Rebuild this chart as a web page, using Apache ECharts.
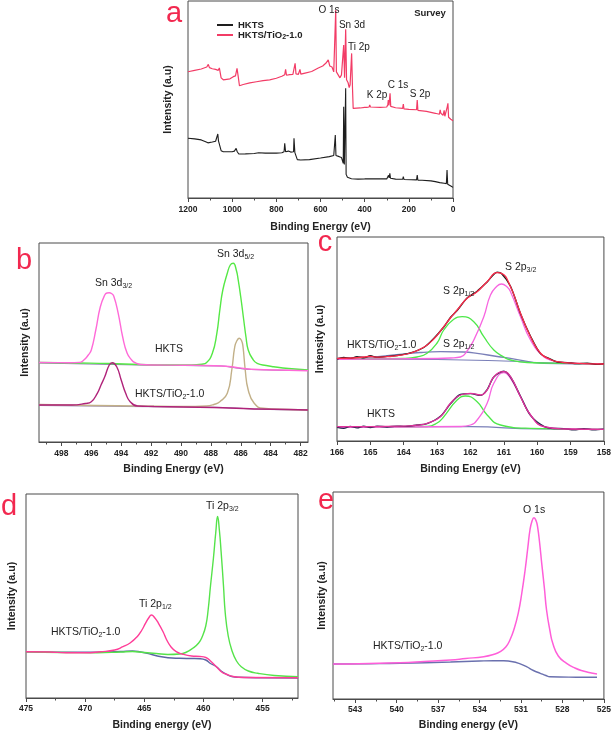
<!DOCTYPE html>
<html>
<head>
<meta charset="utf-8">
<script src="https://cdn.jsdelivr.net/npm/echarts@6/dist/echarts.min.js"></script>
<style>
html,body{margin:0;padding:0;background:#fff;}
#c{width:614px;height:734px;}
</style>
</head>
<body>
<div id="c"></div>
<script>
// ---------------- DATA ----------------
// Panel a: survey spectra [binding energy, intensity a.u.]
var aHKTS = [[1200,30.3],[1170,30.0],[1140,29.5],[1120,28.5],[1110,28.0],[1090,28.4],[1075,28.8],[1068,29.5],[1065,32.5],[1062,29.0],[1056,28.5],[1050,24.0],[1040,23.5],[1000,23.5],[990,23.8],[982,25.2],[977,23.5],[970,22.3],[940,22.4],[900,22.6],[880,23.0],[850,22.8],[800,22.8],[775,23.0],[765,23.5],[762,27.8],[758,23.5],[745,23.8],[735,23.3],[722,23.5],[720,30.3],[716,23.0],[705,19.5],[690,19.3],[650,19.5],[600,20.3],[560,21.0],[540,21.6],[536,22.0],[533,32.0],[530,21.6],[515,21.0],[505,20.5],[500,19.8],[497,17.6],[495,46.3],[492,17.0],[488,18.0],[486,55.7],[484,12.0],[478,10.5],[474,10.0],[460,9.8],[430,9.6],[400,9.7],[380,9.8],[378,10.5],[375,9.7],[330,9.7],[300,9.7],[295,10.5],[292,11.5],[289,10.2],[286,12.5],[283,10.0],[260,9.6],[228,9.5],[225,10.8],[222,9.4],[190,9.3],[165,9.2],[162,11.7],[159,9.0],[140,9.0],[137,9.6],[134,8.8],[100,8.7],[80,8.3],[60,7.8],[40,7.5],[30,7.3],[27,14.2],[24,7.0],[15,6.5],[8,6.0],[0,5.4]];
var aTiO2 = [[1200,64.1],[1170,64.8],[1140,65.5],[1115,66.5],[1108,67.8],[1103,66.2],[1090,65.6],[1075,65.3],[1068,66.2],[1063,64.8],[1058,66.0],[1050,61.0],[1040,60.0],[1010,60.5],[995,61.6],[985,62.0],[978,65.8],[973,62.0],[967,57.0],[950,57.6],[920,58.4],[890,59.0],[860,59.6],[830,60.0],[800,60.8],[775,61.8],[762,62.6],[758,65.3],[754,62.3],[740,62.6],[725,62.8],[718,63.0],[715,68.4],[711,63.0],[700,62.8],[693,65.3],[689,62.9],[670,63.4],[640,64.2],[610,66.0],[590,67.0],[575,68.5],[565,70.1],[558,67.0],[548,66.5],[540,64.0],[535,63.5],[531,95.4],[528,64.0],[520,62.5],[512,61.0],[505,62.5],[498,63.0],[495,77.7],[491,61.0],[488,62.0],[486,85.6],[482,60.0],[475,58.5],[470,56.0],[466,57.5],[462,58.0],[459,73.4],[455,55.5],[452,45.5],[420,45.7],[400,46.0],[395,46.8],[390,46.0],[380,46.2],[377,47.3],[374,46.2],[330,46.0],[300,46.2],[295,47.5],[293,49.7],[290,47.0],[287,47.5],[285,53.1],[282,46.5],[260,45.8],[228,45.5],[225,47.7],[222,45.2],[200,45.0],[165,44.8],[162,49.7],[159,44.5],[120,44.0],[100,43.5],[80,43.0],[62,42.5],[58,44.8],[55,43.0],[45,42.0],[40,44.5],[37,41.5],[30,42.0],[26,46.3],[23,48.1],[20,41.0],[10,40.0],[0,39.2]];

// Panel b: Sn 3d
var bHKTS32 = [[499.5,79.5],[498.5,79.4],[497.5,79.3],[496.8,79.6],[496.5,82],[496.2,87],[496.0,92],[495.7,112],[495.4,135],[495.1,147],[494.95,149],[494.8,149.3],[494.65,148.5],[494.5,146],[494.2,128.7],[493.9,105],[493.6,88.7],[493.3,82],[493.1,79.5],[492.7,77.5],[491.8,77],[489.8,76.8],[487.8,76.3],[486.8,75.5],[486.3,74.5],[485.8,73.5],[485.3,72.8],[484.3,72.2],[482.8,71.8],[481.5,71.3]];
var bHKTS52 = [[499.5,79.5],[496.8,79],[494.8,78.5],[492.8,77.5],[490.8,77],[489.3,77],[488.6,77.8],[488.3,79.3],[487.9,88.7],[487.6,108.7],[487.4,132],[487.2,152],[486.9,168.7],[486.7,177],[486.5,178.7],[486.3,172],[486.17,162],[486.0,145],[485.8,122],[485.65,105],[485.5,92],[485.2,83],[484.9,78.7],[484.3,76.5],[483.8,75.3],[482.8,73.5],[481.5,72]];
var bHKTSbg = [[499.5,79],[492.8,77],[489.8,76.5],[487.3,76],[486.3,74],[485.3,72.5],[481.5,71.5]];
var bTiO232 = [[499.5,37],[497.3,37],[496.4,38.5],[496.0,40.3],[495.6,48.7],[495.35,57],[495.1,65.3],[494.8,77],[494.6,79.3],[494.3,75.3],[494.0,62],[493.7,48.7],[493.4,40.3],[492.9,36],[491.8,35.5],[489.8,35],[487.8,34.5],[486.8,34],[485.8,33.5],[484.8,33],[482.8,32.5],[481.5,32]];
var bTiO252 = [[499.5,37.5],[495.8,36.5],[492.8,36],[489.8,35.5],[488.3,36],[487.8,37.5],[487.4,40.3],[486.9,48.7],[486.6,72],[486.4,95.3],[486.25,101.5],[486.1,103.7],[485.95,101.5],[485.85,95.3],[485.7,72],[485.5,52],[485.1,38.7],[484.5,33.7],[482.8,32.5],[481.5,32]];
var bTiO2bg = [[499.5,36.5],[493.8,35.5],[489.8,35],[486.3,34],[485.3,33],[481.5,32]];

// Panel c: S 2p
var cTiO2data = [[166,82],[165.8,83.5],[165.6,82.6],[165.4,84.2],[165.2,83.2],[165.0,85.2],[164.8,83.6],[164.5,84.6],[164.2,85.5],[163.8,88.2],[163.4,93.5],[163.1,102.5],[162.8,114],[162.6,123.5],[162.4,130.5],[162.1,143],[161.8,149.8],[161.5,159],[161.2,168.8],[161.07,167.5],[160.8,154.8],[160.5,127.3],[160.2,104.8],[159.9,87.4],[159.6,81.8],[159.4,79.0],[159.1,78.4],[158.8,77.4],[158.5,77.9],[158.2,76.6],[158,77.2]];
var cTiO2env = [[166,82.7],[165.5,83],[165.2,84],[165.0,84.5],[164.8,83.8],[164.5,84.3],[164.2,85.3],[163.8,88],[163.4,93.7],[163.1,102],[162.8,114.3],[162.6,123],[162.4,131],[162.1,142.7],[161.8,149.3],[161.5,159.3],[161.2,168.3],[161.07,167.7],[160.8,154.3],[160.5,127.7],[160.2,104.3],[159.9,87.7],[159.6,81.5],[159.4,79.3],[158.8,77.7],[158,77]];
var cTiO2p12 = [[166,81.7],[164,82.5],[163.6,84],[163.3,87.7],[163.0,98],[162.8,111],[162.5,121.7],[162.25,124.3],[161.9,119.3],[161.6,104.3],[161.3,91],[161.0,84],[160.8,81],[160.3,78.5],[159,77.7],[158,77]];
var cTiO2p32 = [[166,81.7],[163,82.5],[162.6,83],[162.3,84],[162.1,90],[161.9,101],[161.6,124.3],[161.4,146],[161.2,155],[161.07,157],[160.9,154],[160.8,149.3],[160.5,124.3],[160.2,101],[159.8,84.3],[159.5,80],[159.2,78.3],[158,77]];
var cTiO2small = [[166,82.7],[165,84],[164.3,86],[163.5,88.5],[162.9,89.3],[162.2,89],[161.8,87.7],[161.2,84.5],[160.8,82.7],[159.8,77.7],[158,77]];
var cTiO2bg = [[166,82],[163,81.5],[161,80],[160,78.5],[159,77.5],[158,77]];
var cHKTSdata = [[166,13.6],[165.8,12.6],[165.6,14.6],[165.4,13.1],[165.2,14.7],[165.0,13.4],[164.8,14.9],[164.5,14.0],[164.2,14.9],[164,14.6],[163.6,16.0],[163.3,17.4],[162.9,24.8],[162.6,37.2],[162.3,46.5],[162.0,47.4],[161.7,45.6],[161.5,51.4],[161.3,64.0],[161.0,69.7],[160.8,64.0],[160.5,44.8],[160.2,25.6],[159.8,14.6],[159.5,12.5],[159.2,12.4],[158.9,11.2],[158.6,12.3],[158.3,11.2],[158,11.9]];
var cHKTSenv = [[166,14.3],[164,14.8],[163.6,15.8],[163.3,17.7],[162.9,24.3],[162.6,37.7],[162.3,46],[162.0,47.7],[161.7,46],[161.5,51],[161.3,64.3],[161.0,69.3],[160.8,64.3],[160.5,44.3],[160.2,26],[159.8,14.3],[159.2,12],[158,11.7]];
var cHKTSp12 = [[166,13.7],[163.3,14.5],[163.0,18],[162.8,24.3],[162.4,41],[162.15,45],[161.8,39.3],[161.5,26],[161.1,16],[160.2,12.7],[158,11.7]];
var cHKTSp32 = [[166,13.7],[162.3,14.5],[162.0,16],[161.8,21],[161.5,37.7],[161.3,57.7],[161.0,68.3],[160.8,62.7],[160.5,44.3],[160.2,26],[159.8,14.3],[159.3,12.3],[158,11.7]];
var cHKTSbg = [[166,14.3],[162,14.3],[160,12],[158,11.7]];

// Panel d: Ti 2p
var dTi12 = [[475,46.3],[473,46],[471.6,45.3],[470,45.3],[468.7,46.3],[467.5,48],[466.8,51.3],[466.2,55],[465.6,61.3],[465.2,68],[464.9,74.7],[464.6,80.5],[464.4,83],[464.1,80],[463.8,74.7],[463.4,66],[463.1,58],[462.7,50.5],[462.3,46.3],[461.8,44],[461.0,42],[460.3,41.5],[459.8,40.5],[459.4,37],[458.9,31.3],[458.4,25.5],[458.1,24],[457.5,21.5],[456.5,20.5],[452,20.3]];
var dTi32 = [[475,46.3],[472,45.5],[469,45.3],[467,46],[466,46.5],[465,45.5],[464,44.5],[463,43.5],[462,44],[461.5,45.5],[460.9,49.7],[460.4,55],[460.1,61.3],[459.8,72],[459.6,88],[459.4,112],[459.15,140],[458.95,166],[458.8,181.5],[458.65,168],[458.5,146],[458.3,112],[458.15,84.7],[457.9,62],[457.6,48],[457.2,37],[456.8,31.3],[456.2,27],[455.4,24.7],[454,22.5],[452,21.3]];
var dBg = [[475,46.3],[470,45.8],[467,46.5],[466,47],[465.3,46],[464.5,44],[463.9,42],[463,40.3],[462,39.7],[461,39.5],[460.3,39.3],[459.8,38],[459.4,34.5],[458.9,31.3],[458.5,27],[458.1,24],[457.6,21.5],[457,20.7],[455,20.2],[452,20]];

// Panel e: O 1s
var eO1s = [[544.6,35],[544.1,35],[542,35.5],[539.75,36.3],[538,37.5],[536.1,39],[535,40.5],[533.7,42.3],[533,44.5],[532.5,47.3],[532.1,52],[531.8,59],[531.5,70],[531.2,85.7],[530.95,105],[530.7,129],[530.5,152],[530.35,169],[530.2,178],[530.06,181.3],[529.9,178],[529.8,172.3],[529.65,156],[529.5,135.7],[529.3,110],[529.15,89],[528.9,68],[528.7,55.7],[528.3,43],[527.7,35.7],[527.1,31],[526.5,28],[525.9,26],[525.5,25]];
var eBg = [[544.6,35],[542,35.3],[539.75,35.7],[536.1,37],[534,38],[533,38.3],[532.3,38.2],[531.6,37.3],[531.1,35.3],[530.6,32.3],[530.1,28.5],[529.6,25.7],[529.2,23.5],[528.9,22.3],[527,21.8],[525.5,21.7]];

// Tick labels
var aTicks = [0,200,400,600,800,1000,1200], aMinor = [100,300,500,700,900,1100];
var bTicks = [482,484,486,488,490,492,494,496,498], bMinor = [483,485,487,489,491,493,495,497,499];
var cTicks = [158,159,160,161,162,163,164,165,166], cMinor = [];
var dTicks = [455,460,465,470,475], dMinor = [452.5,457.5,462.5,467.5,472.5];
var eTicks = [525,528,531,534,537,540,543], eMinor = [526.5,529.5,532.5,535.5,538.5,541.5,544.5];

// ---------------- CHART ----------------
var FF = 'Liberation Sans, Arial, sans-serif';
var AX = '#4a4a4a';
var chart = echarts.init(document.getElementById('c'), null, {renderer:'canvas'});

var grids = [
  {left:188, top:1, width:265, height:197},
  {left:39, top:243, width:269, height:199},
  {left:337, top:237, width:267, height:204},
  {left:26, top:494, width:272, height:204},
  {left:333, top:492, width:271, height:207}
].map(function(g){ return Object.assign({show:true, borderColor:AX, borderWidth:1, backgroundColor:'transparent', containLabel:false}, g); });

function mainX(gi, min, max, ticks, name, gap, margin){
  return {type:'value', gridIndex:gi, min:min, max:max, inverse:true, position:'bottom',
    axisLine:{show:true, onZero:false, lineStyle:{color:AX, width:1}},
    axisTick:{show:true, customValues:ticks, length:4, lineStyle:{color:AX}},
    axisLabel:{show:true, customValues:ticks, fontSize:8.5, fontWeight:'bold', color:'#222', fontFamily:FF, margin:margin,
      formatter:function(v){ return String(v); }},
    splitLine:{show:false},
    name:name, nameLocation:'middle', nameGap:gap,
    nameTextStyle:{fontSize:10.5, fontWeight:'bold', color:'#222', fontFamily:FF}};
}
function minorX(gi, min, max, ticks){
  return {type:'value', gridIndex:gi, min:min, max:max, inverse:true, position:'bottom',
    axisLine:{show:false, onZero:false},
    axisTick:{show:ticks.length>0, customValues:ticks.length?ticks:[min], length:2.5, lineStyle:{color:AX}},
    axisLabel:{show:false}, splitLine:{show:false}};
}
function yAx(gi, max, gap){
  return {type:'value', gridIndex:gi, min:0, max:max,
    axisLine:{show:false}, axisTick:{show:false}, axisLabel:{show:false}, splitLine:{show:false},
    name:'Intensity (a.u)', nameLocation:'middle', nameGap:gap,
    nameTextStyle:{fontSize:10.5, fontWeight:'bold', color:'#222', fontFamily:FF}};
}

var xAxes = [
  mainX(0, 0, 1200, aTicks, 'Binding Energy (eV)', 24, 7), minorX(0, 0, 1200, aMinor),
  mainX(1, 481.5, 499.5, bTicks, 'Binding Energy (eV)', 22, 7), minorX(1, 481.5, 499.5, bMinor),
  mainX(2, 158, 166, cTicks, 'Binding Energy (eV)', 23, 7), minorX(2, 158, 166, cMinor),
  mainX(3, 452, 475, dTicks, 'Binding energy (eV)', 22, 6), minorX(3, 452, 475, dMinor),
  mainX(4, 525, 544.6, eTicks, 'Binding energy (eV)', 21, 6), minorX(4, 525, 544.6, eMinor)
];
var yAxes = [yAx(0,100,14), yAx(1,199,8), yAx(2,204,11), yAx(3,204,8), yAx(4,207,5)];

function L(name, data, xi, yi, color, width, smooth, z){
  return {type:'line', name:name, data:data, xAxisIndex:xi, yAxisIndex:yi,
    showSymbol:false, symbol:'none', smooth:smooth,
    lineStyle:{color:color, width:width||1.2}, itemStyle:{color:color}, z:z||2, silent:true, animation:false};
}

var series = [
  L('HKTS', aHKTS, 0, 0, '#1e1e1e', 1.1, false, 3),
  L('HKTS/TiO2-1.0', aTiO2, 0, 0, '#f23c66', 1.2, false, 3),

  L('b1', bHKTSbg, 2, 1, '#8c78b0', 1.2, 0.5, 2),
  L('b2', bHKTS52, 2, 1, '#55e845', 1.4, 0.5, 3),
  L('b3', bHKTS32, 2, 1, '#ff6ad8', 1.4, 0.5, 4),
  L('b4', bTiO2bg, 2, 1, '#9b8fb8', 1.2, 0.5, 2),
  L('b5', bTiO252, 2, 1, '#c2b088', 1.4, 0.5, 3),
  L('b6', bTiO232, 2, 1, '#b0237a', 1.4, 0.5, 4),

  L('c1', cTiO2bg, 4, 2, '#7a7fb8', 1.2, 0.5, 2),
  L('c2', cTiO2small, 4, 2, '#7a7fb8', 1.3, 0.5, 2),
  L('c3', cTiO2p12, 4, 2, '#4ee84a', 1.3, 0.5, 3),
  L('c4', cTiO2p32, 4, 2, '#f765e0', 1.3, 0.5, 3),
  L('c5', cTiO2data, 4, 2, '#1a1a1a', 1.4, 0.3, 4),
  L('c6', cTiO2env, 4, 2, '#ff2c4c', 1.3, 0.5, 5),
  L('c7', cHKTSbg, 4, 2, '#7a7fb8', 1.2, 0.5, 2),
  L('c8', cHKTSp12, 4, 2, '#4ee84a', 1.3, 0.5, 3),
  L('c9', cHKTSp32, 4, 2, '#f765e0', 1.3, 0.5, 3),
  L('c10', cHKTSdata, 4, 2, '#22264a', 1.4, 0.3, 4),
  L('c11', cHKTSenv, 4, 2, '#e0339a', 1.3, 0.5, 5),

  L('d1', dBg, 6, 3, '#5d66a3', 1.4, 0.5, 2),
  L('d2', dTi32, 6, 3, '#55e34a', 1.4, 0.5, 3),
  L('d3', dTi12, 6, 3, '#ff3d98', 1.4, 0.5, 4),

  L('e1', eBg, 8, 4, '#6a70ae', 1.4, 0.5, 2),
  L('e2', eO1s, 8, 4, '#ff5ed9', 1.5, 0.5, 3)
];

var RICH = {
  m:{fontSize:10.5, fontFamily:FF, fill:'#222', lineHeight:14},
  s:{fontSize:7, fontFamily:FF, fill:'#222', lineHeight:14, verticalAlign:'bottom', padding:[6,0,0,0]}
};
function T(x, y, text, opt){
  opt = opt || {};
  return {type:'text', x:x, y:y, z:100, silent:true,
    style:{text:text, fill:opt.fill||'#222', fontSize:opt.size||10.5, fontWeight:opt.weight||'normal',
      fontFamily:FF, align:opt.align||'left', verticalAlign:'middle', rich:RICH}};
}
var LET = '#f2284f';
var graphics = [
  T(174, 14, 'a', {size:29, fill:LET, align:'center'}),
  T(24, 261, 'b', {size:29, fill:LET, align:'center'}),
  T(325, 243, 'c', {size:29, fill:LET, align:'center'}),
  T(9, 507, 'd', {size:29, fill:LET, align:'center'}),
  T(326, 501, 'e', {size:29, fill:LET, align:'center'}),

  T(329, 10, 'O 1s', {align:'center', size:10}),
  T(352, 25, 'Sn 3d', {align:'center', size:10}),
  T(359, 47, 'Ti 2p', {align:'center', size:10}),
  T(377, 95, 'K 2p', {align:'center', size:10}),
  T(398, 85, 'C 1s', {align:'center', size:10}),
  T(420, 94, 'S 2p', {align:'center', size:10}),
  T(430, 13, 'Survey', {align:'center', size:9.5, weight:'bold'}),

  T(95, 283, '{m|Sn 3d}{s|3/2}'),
  T(217, 254, '{m|Sn 3d}{s|5/2}'),
  T(155, 349, '{m|HKTS}'),
  T(135, 394, '{m|HKTS/TiO}{s|2}{m|-1.0}'),

  T(505, 267, '{m|S 2p}{s|3/2}'),
  T(443, 291, '{m|S 2p}{s|1/2}'),
  T(347, 345, '{m|HKTS/TiO}{s|2}{m|-1.0}'),
  T(443, 344, '{m|S 2p}{s|1/2}'),
  T(367, 414, '{m|HKTS}'),

  T(206, 506, '{m|Ti 2p}{s|3/2}'),
  T(139, 604, '{m|Ti 2p}{s|1/2}'),
  T(51, 632, '{m|HKTS/TiO}{s|2}{m|-1.0}'),

  T(523, 510, '{m|O 1s}'),
  T(373, 646, '{m|HKTS/TiO}{s|2}{m|-1.0}')
];

chart.setOption({
  animation:false,
  backgroundColor:'#fff',
  grid:grids,
  xAxis:xAxes,
  yAxis:yAxes,
  legend:{
    data:['HKTS','HKTS/TiO2-1.0'], selectedMode:false, orient:'vertical',
    left:212, top:15, itemWidth:16, itemHeight:2, itemGap:0, icon:'rect',
    textStyle:{fontSize:9.5, fontWeight:'bold', color:'#222', fontFamily:FF,
      rich:{n:{fontSize:9.5, fontWeight:'bold', fontFamily:FF, color:'#222'},
            s:{fontSize:7, fontWeight:'bold', fontFamily:FF, color:'#222', verticalAlign:'bottom', padding:[5,0,0,0]}}},
    formatter:function(n){ return n==='HKTS' ? '{n|HKTS}' : '{n|HKTS/TiO}{s|2}{n|-1.0}'; }
  },
  series:series,
  graphic:graphics
});
</script>
</body>
</html>
